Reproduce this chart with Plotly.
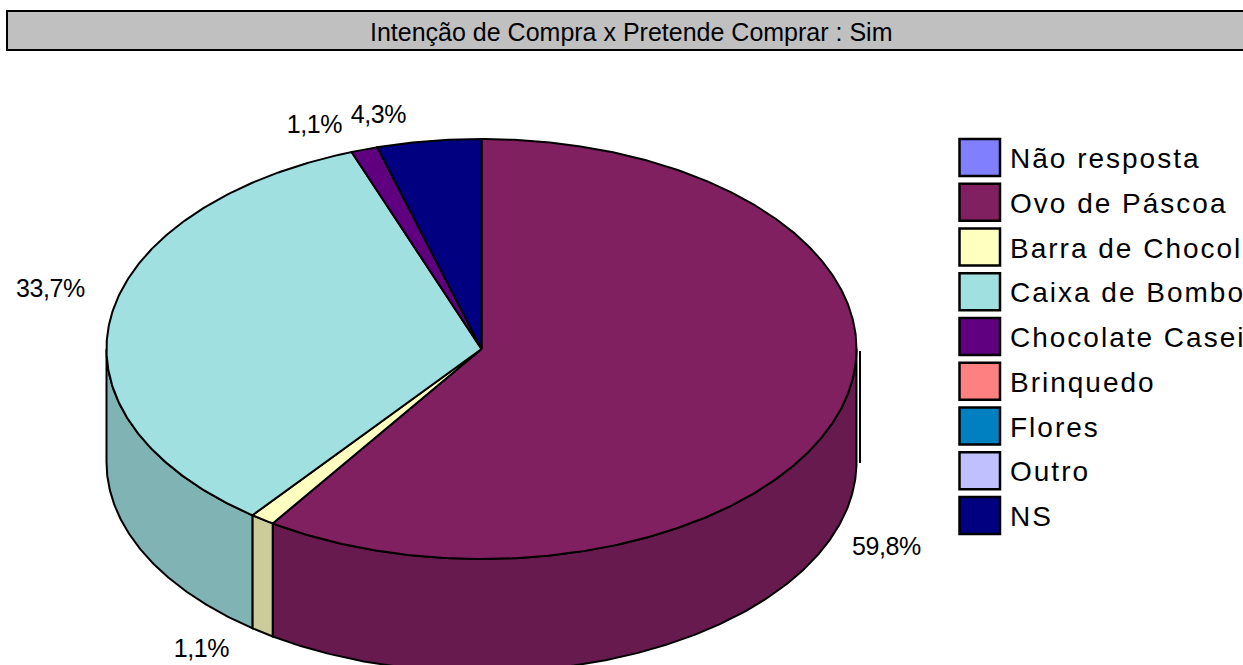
import math
import plotly.graph_objects as go

title = "Intenção de Compra x Pretende Comprar : Sim"
categories = ["Não resposta", "Ovo de Páscoa", "Barra de Chocolate", "Caixa de Bombom",
              "Chocolate Caseiro", "Brinquedo", "Flores", "Outro", "NS"]
values = [0, 59.8, 1.1, 33.7, 1.1, 0, 0, 0, 4.3]
labels = ["", "59,8%", "1,1%", "33,7%", "1,1%", "", "", "", "4,3%"]
colors = ["#8080FF", "#802060", "#FFFFC0", "#A0E0E0", "#600080", "#FF8080", "#0080C0", "#C0C0FF", "#000080"]
side_colors = ["#6666CC", "#661A4D", "#CCCC9A", "#80B3B3", "#4D0066", "#CC6666", "#006699", "#9A9ACC", "#000066"]
label_pos = {1: (886, 546), 2: (201, 648), 3: (50.5, 288), 4: (314, 124), 8: (378, 114)}

W, H = 1243, 665
CX, CY, RX, RY, DEPTH = 481.5, 349, 375, 210, 113
SKEW = 2.5  # small angular distortion of the tilted pie's projection


def project(deg):
    return deg + SKEW * math.sin(math.radians(deg))


def pt(deg, dy=0):
    a = math.radians(deg)
    return CX + RX * math.sin(a), CY - RY * math.cos(a) + dy


def arc(a0, a1, dy=0):
    n = max(2, int(abs(a1 - a0) * 2) + 1)
    return [pt(a0 + (a1 - a0) * i / (n - 1), dy) for i in range(n)]


fig = go.Figure()
total = sum(values)
start = 0.0
spans = []
for v in values:
    end = start + v / total * 360
    spans.append((project(start), project(end)))
    start = end


def poly(points, fill, lw=2):
    xs = [p[0] for p in points] + [points[0][0]]
    ys = [p[1] for p in points] + [points[0][1]]
    fig.add_trace(go.Scatter(x=xs, y=ys, mode="lines", fill="toself", fillcolor=fill,
                             line=dict(color="black", width=lw), hoverinfo="skip", showlegend=False))


# side walls (only the front half of the pie is visible)
for i, (a0, a1) in enumerate(spans):
    lo, hi = max(a0, 90), min(a1, 270)
    if values[i] > 0 and hi > lo:
        poly(arc(lo, hi) + arc(hi, lo, DEPTH), side_colors[i])

# top faces
for i, (a0, a1) in enumerate(spans):
    if values[i] > 0:
        poly([(CX, CY)] + arc(a0, a1), colors[i])

# stray vertical rule at the right of the pie
fig.add_trace(go.Scatter(x=[860, 860], y=[351, 463], mode="lines", line=dict(color="black", width=2),
                         hoverinfo="skip", showlegend=False))

# legend labels
tops = [139 + i * 44.75 for i in range(len(categories))]
fig.add_trace(go.Scatter(x=[1010] * len(categories), y=[t + 22 for t in tops], mode="text",
                         text=categories, textposition="middle right", cliponaxis=False,
                         textfont=dict(family="Liberation Sans", size=28, color="black"),
                         hoverinfo="skip", showlegend=False))

shapes = [dict(type="rect", xref="x", yref="y", x0=7, x1=W + 10, y0=11, y1=50,
               fillcolor="#C0C0C0", line=dict(color="black", width=2), layer="below")]
annotations = [dict(x=631, y=32, xref="x", yref="y", text=title, showarrow=False, xanchor="center",
                    yanchor="middle", font=dict(family="Liberation Sans", size=25, color="black"))]

for i, name in enumerate(categories):
    shapes.append(dict(type="rect", xref="x", yref="y", x0=959.5, x1=1000, y0=tops[i], y1=tops[i] + 37,
                       fillcolor=colors[i], line=dict(color="black", width=2.5)))

for i, (x, y) in label_pos.items():
    annotations.append(dict(x=x, y=y, xref="x", yref="y", text=labels[i], showarrow=False,
                            xanchor="center", yanchor="middle",
                            font=dict(family="Liberation Sans", size=25, color="black")))

fig.update_layout(
    width=W, height=H, margin=dict(l=0, r=0, t=0, b=0), paper_bgcolor="white", plot_bgcolor="white",
    showlegend=False, shapes=shapes, annotations=annotations,
    xaxis=dict(range=[0, W], visible=False, fixedrange=True),
    yaxis=dict(range=[H, 0], visible=False, fixedrange=True),
)

post = """
document.body.style.margin='0';
document.body.style.overflow='hidden';
document.querySelectorAll('.textpoint text').forEach(function(t){ t.style.letterSpacing='2px'; });
document.querySelectorAll('.annotation-text').forEach(function(t){
  if (t.textContent.indexOf('%') >= 0) { t.style.letterSpacing='-0.4px'; }
});
"""
fig.write_html("out.html", post_script=post, config=dict(displayModeBar=False))
